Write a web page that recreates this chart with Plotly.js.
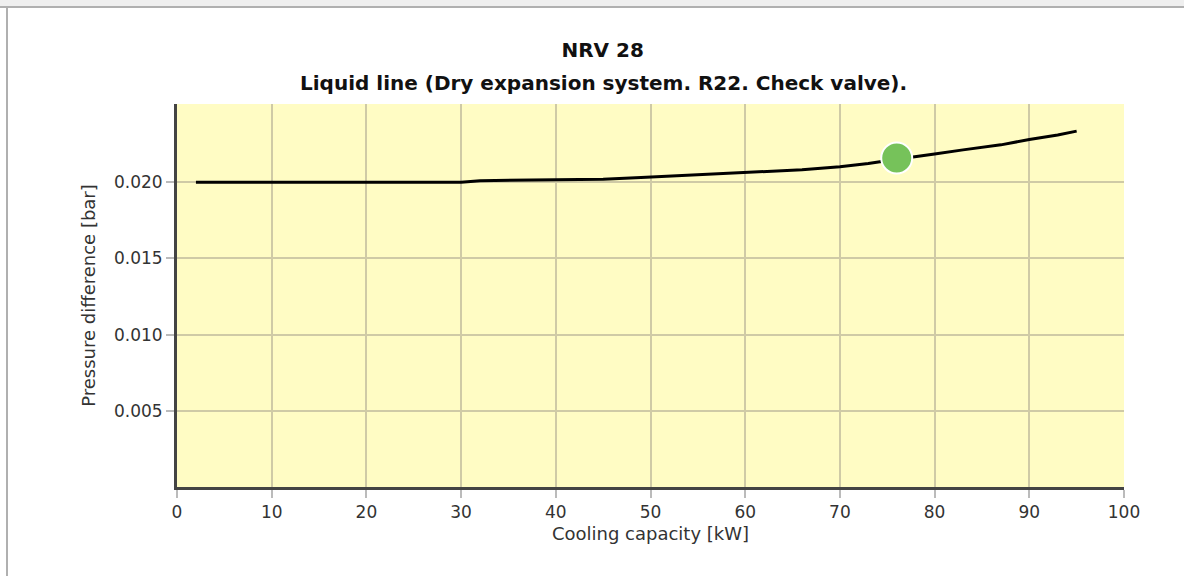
<!DOCTYPE html>
<html>
<head>
<meta charset="utf-8">
<script src="https://cdn.plot.ly/plotly-3.0.1.min.js"></script>
<style>
html,body{margin:0;padding:0;background:#fff;}
#wrap{position:relative;width:1184px;height:576px;overflow:hidden;background:#fff;}
#topband{position:absolute;left:0;top:0;width:1184px;height:6px;background:#efefef;border-bottom:2px solid #b0b0b0;}
#leftline{position:absolute;left:6px;top:6px;width:2px;height:570px;background:#b0b0b0;}
#chart{position:absolute;left:0;top:0;width:1184px;height:576px;}
</style>
</head>
<body>
<div id="wrap">
<div id="chart"></div>
<div id="topband"></div>
<div id="leftline"></div>
</div>
<script>
// Curve: cooling capacity [kW] vs pressure difference [bar]
const capacity = [2, 10, 20, 30, 32, 40, 45, 49, 51, 55, 60, 63, 66, 70, 73, 76, 78, 80, 83, 85, 87, 90, 93, 95];
const pressure = [0.0200, 0.0200, 0.0200, 0.0200, 0.02010, 0.02016, 0.02020, 0.02030, 0.02036, 0.02045, 0.02060, 0.02070, 0.02082, 0.02102, 0.02122, 0.02150, 0.02170, 0.02185, 0.02212, 0.02228, 0.02245, 0.02280, 0.02310, 0.02335];
// Operating point
const pointX = [76];
const pointY = [0.02158];
const xTicks = [0, 10, 20, 30, 40, 50, 60, 70, 80, 90, 100];
const yTicks = [0.005, 0.010, 0.015, 0.020];
const yTickText = ['0.005', '0.010', '0.015', '0.020'];
const titleLine1 = 'NRV 28';
const titleLine2 = 'Liquid line (Dry expansion system. R22. Check valve).';

const font = 'DejaVu Sans, Verdana, sans-serif';

const traces = [
  {x: capacity, y: pressure, type: 'scatter', mode: 'lines',
   line: {color: '#000', width: 3, shape: 'linear'}, hoverinfo: 'skip', showlegend: false},
  {x: pointX, y: pointY, type: 'scatter', mode: 'markers',
   marker: {color: '#76c25a', size: 31, line: {color: '#ffffff', width: 2}}, showlegend: false}
];

const layout = {
  width: 1184, height: 576,
  margin: {l: 177, r: 60, t: 104, b: 89},
  paper_bgcolor: '#ffffff',
  plot_bgcolor: '#fffcc4',
  font: {family: font, color: '#333', size: 17},
  title: {text: '<b>' + titleLine1 + '</b>',
          font: {family: font, size: 20, color: '#111'},
          x: 0.509, xref: 'container', xanchor: 'center',
          y: 1 - 50/576, yref: 'container', yanchor: 'middle'},
  annotations: [{
    text: '<b>' + titleLine2 + '</b>', showarrow: false,
    xref: 'paper', yref: 'paper', x: (603 - 177) / 947, y: (487 - 83) / 383,
    xanchor: 'center', yanchor: 'middle',
    font: {family: font, size: 20, color: '#111'}
  }],
  xaxis: {
    range: [0, 100], tickvals: xTicks, ticktext: xTicks.map(String),
    showgrid: true, gridcolor: '#cfcaa6', gridwidth: 2,
    showline: true, linecolor: '#444', linewidth: 3, mirror: false,
    ticks: 'outside', ticklen: 8, tickcolor: '#bbb', tickwidth: 2,
    zeroline: false,
    tickfont: {family: font, size: 17, color: '#333'},
    title: {text: 'Cooling capacity [kW]', font: {family: font, size: 18, color: '#333'}, standoff: 6}
  },
  yaxis: {
    range: [0, 0.02513], tickvals: yTicks, ticktext: yTickText,
    showgrid: true, gridcolor: '#cfcaa6', gridwidth: 2,
    showline: true, linecolor: '#444', linewidth: 3, mirror: false,
    ticks: 'outside', ticklen: 8, tickcolor: '#bbb', tickwidth: 2,
    zeroline: false,
    tickfont: {family: font, size: 17, color: '#333'},
    title: {text: 'Pressure difference [bar]', font: {family: font, size: 18, color: '#333'}, standoff: 14}
  },
  showlegend: false
};

Plotly.newPlot('chart', traces, layout, {displayModeBar: false, staticPlot: true});
</script>
</body>
</html>
